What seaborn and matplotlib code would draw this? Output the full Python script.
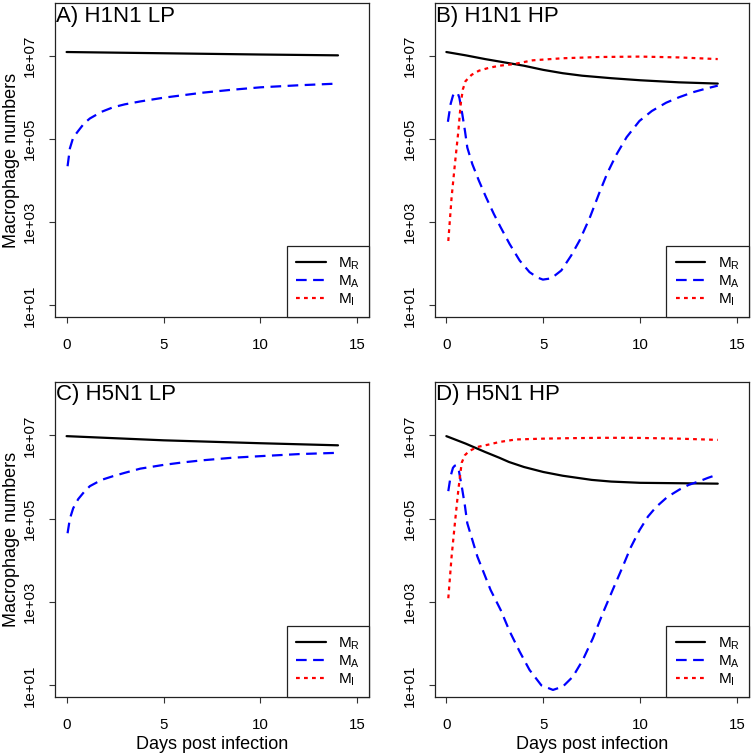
import numpy as np
import matplotlib
matplotlib.use('Agg')
import matplotlib.pyplot as plt
from matplotlib.lines import Line2D
import seaborn as sns

# --- Estilo ---
sns.set_style('white')
plt.rcParams['font.family'] = ['Liberation Sans', 'DejaVu Sans']
plt.rcParams['mathtext.fontset'] = 'custom'
plt.rcParams['mathtext.rm'] = 'Liberation Sans'
for k in ['text.color', 'axes.labelcolor', 'xtick.color', 'ytick.color']:
    plt.rcParams[k] = 'black'

# --- Datos (log10 de macrofagos) ---
# A) H1N1 LP
a_t_mr = [0, 5, 10, 14]
a_mr = [7.10, 7.07, 7.04, 7.02]
a_t_ma = [0.05, 0.17, 0.34, 0.6, 0.9, 1.2, 1.8, 2.4, 3.0, 3.8, 5, 6, 7, 8.5, 10, 12, 14]
a_ma = [4.35, 4.78, 5.04, 5.20, 5.38, 5.50, 5.66, 5.77, 5.84, 5.91, 6.00, 6.06, 6.12, 6.19, 6.25, 6.30, 6.34]

# B) H1N1 HP
b_t_mr = [0, 1, 2, 3, 4, 5, 6, 7, 8.5, 10, 12, 14]
b_mr = [7.10, 7.02, 6.93, 6.85, 6.77, 6.67, 6.59, 6.53, 6.47, 6.42, 6.37, 6.34]
b_t_ma = [0.08, 0.22, 0.34, 0.43, 0.52, 0.6, 0.67, 0.82, 0.96, 1.08, 1.34, 1.68, 2.05, 2.45, 2.8,
          3.26, 3.78, 4.29, 4.7, 4.98, 5.41, 5.93, 6.44, 6.87, 7.39, 7.9, 8.3, 8.76,
          9.3, 9.96, 10.6, 11.34, 12.0, 12.71, 13.4, 14]
b_ma = [5.42, 5.85, 6.05, 6.11, 6.13, 6.09, 6.00, 5.61, 5.20, 4.80, 4.40, 4.00, 3.60, 3.20, 2.88,
        2.48, 2.08, 1.80, 1.67, 1.62, 1.65, 1.84, 2.20, 2.56, 3.10, 3.72, 4.18, 4.62,
        5.05, 5.44, 5.68, 5.88, 6.01, 6.13, 6.22, 6.29]
b_t_mi = [0.1, 0.27, 0.44, 0.62, 0.74, 0.85, 0.99, 1.3, 1.68, 2.2, 2.74, 3.49, 4.45, 6, 7.9, 10, 12, 14]
b_mi = [2.55, 3.60, 4.40, 5.20, 5.85, 6.20, 6.40, 6.55, 6.65, 6.72, 6.77, 6.81, 6.90, 6.95, 6.98, 6.99, 6.97, 6.93]

# C) H5N1 LP
c_t_mr = [0, 5, 10, 14]
c_mr = [6.98, 6.88, 6.81, 6.76]
c_t_ma = [0.05, 0.17, 0.34, 0.6, 0.9, 1.2, 1.8, 2.4, 3.0, 3.8, 5, 6, 7, 8.5, 10, 12, 14]
c_ma = [4.65, 5.00, 5.25, 5.47, 5.64, 5.78, 5.93, 6.02, 6.10, 6.20, 6.29, 6.35, 6.40, 6.46, 6.50, 6.55, 6.58]

# D) H5N1 HP
d_t_mr = [0, 1, 1.5, 2, 2.74, 3.23, 4, 5, 6, 7.5, 8.5, 10, 12, 14]
d_mr = [6.98, 6.80, 6.70, 6.60, 6.46, 6.36, 6.24, 6.12, 6.03, 5.93, 5.89, 5.86, 5.85, 5.84]
d_t_ma = [0.1, 0.22, 0.34, 0.43, 0.5, 0.58, 0.65, 0.82, 0.96, 1.08, 1.34, 1.6, 2.28, 2.8, 3.26,
          3.78, 4.29, 4.9, 5.5, 6.01, 6.53, 7.04, 7.56, 8.07, 8.59, 9.1, 9.5, 9.96, 10.4, 10.82,
          11.4, 12.03, 12.5, 13.06, 13.5, 14]
d_ma = [5.66, 6.02, 6.22, 6.27, 6.28, 6.24, 6.14, 5.70, 5.30, 4.89, 4.49, 4.09, 3.29, 2.81, 2.30,
        1.81, 1.37, 1.00, 0.89, 0.97, 1.21, 1.61, 2.13, 2.73, 3.30, 3.85, 4.30, 4.72, 5.05, 5.28,
        5.52, 5.70, 5.81, 5.90, 5.98, 6.06]
d_t_mi = [0.1, 0.27, 0.44, 0.62, 0.79, 0.95, 1.17, 1.6, 2.2, 2.74, 3.57, 5, 6.19, 8, 9.62, 12, 14]
d_mi = [3.09, 4.09, 4.89, 5.70, 6.34, 6.52, 6.62, 6.72, 6.78, 6.84, 6.90, 6.92, 6.93, 6.94, 6.94, 6.92, 6.89]

titles = ['A) H1N1 LP', 'B) H1N1 HP', 'C) H5N1 LP', 'D) H5N1 HP']
legend_labels = [r'$\mathregular{M_R}$', r'$\mathregular{M_A}$', r'$\mathregular{M_I}$']
ytick_vals = [1e1, 1e3, 1e5, 1e7]
ytick_labels = ['1e+01', '1e+03', '1e+05', '1e+07']
xtick_vals = [0, 5, 10, 15]

# --- Estilos de linea ---
LW = 1.6
sty = {
    'MR': dict(color='black', linestyle='-'),
    'MA': dict(color='#0000FF', linestyle=(0, (4.8, 2.9))),
    'MI': dict(color='#FF0000', linestyle=(0, (1.7, 1.9))),
}

panels = [
    (titles[0], [('MR', a_t_mr, a_mr), ('MA', a_t_ma, a_ma)]),
    (titles[1], [('MR', b_t_mr, b_mr), ('MA', b_t_ma, b_ma), ('MI', b_t_mi, b_mi)]),
    (titles[2], [('MR', c_t_mr, c_mr), ('MA', c_t_ma, c_ma)]),
    (titles[3], [('MR', d_t_mr, d_mr), ('MA', d_t_ma, d_ma), ('MI', d_t_mi, d_mi)]),
]

# posiciones de los ejes en fraccion de figura
positions = [
    [0.0731, 0.5796, 0.4176, 0.4164],
    [0.5781, 0.5796, 0.4176, 0.4164],
    [0.0731, 0.0756, 0.4176, 0.4178],
    [0.5781, 0.0756, 0.4176, 0.4178],
]

fig = plt.figure(figsize=(7.52, 7.54), dpi=100)

for i, ((title, series), pos) in enumerate(zip(panels, positions)):
    ax = fig.add_axes(pos)
    for key, t, v in series:
        sns.lineplot(x=t, y=np.power(10.0, v), ax=ax, lw=LW, sort=False,
                     estimator=None, **sty[key])
    ax.set_yscale('log')
    ax.set_xlim(-0.6, 15.6)
    ax.set_ylim(10 ** 0.72, 10 ** 8.28)
    ax.set_yticks(ytick_vals)
    ax.set_yticklabels(ytick_labels, rotation=90, va='center')
    ax.yaxis.set_minor_locator(matplotlib.ticker.NullLocator())
    ax.set_xticks(xtick_vals)
    ax.set_xticklabels([str(x) for x in xtick_vals])
    ax.tick_params(axis='both', direction='out', length=4, width=0.8,
                   labelsize=10.8, color='#333333', left=True, bottom=True)
    ax.tick_params(axis='y', pad=9)
    ax.tick_params(axis='x', pad=11)
    for s in ax.spines.values():
        s.set_color('#222222')
        s.set_linewidth(0.9)

    ax.text(0.004, 0.992, title, transform=ax.transAxes, ha='left', va='top',
            fontsize=16)

    if i % 2 == 0:
        ax.set_ylabel('Macrophage numbers', fontsize=13, labelpad=2)
    else:
        ax.set_ylabel('')
    if i >= 2:
        ax.set_xlabel('Days post infection', fontsize=13, labelpad=3)
    else:
        ax.set_xlabel('')

    handles = [Line2D([], [], lw=LW, **sty[k]) for k in ['MR', 'MA', 'MI']]
    leg = ax.legend(handles, legend_labels, loc='lower right', borderaxespad=0,
                    fancybox=False, framealpha=1, edgecolor='#222222',
                    fontsize=11, handlelength=1.95, handletextpad=0.8,
                    borderpad=0.6, labelspacing=0.1)
    leg.get_frame().set_linewidth(0.9)

fig.savefig('out.png', dpi=100)
